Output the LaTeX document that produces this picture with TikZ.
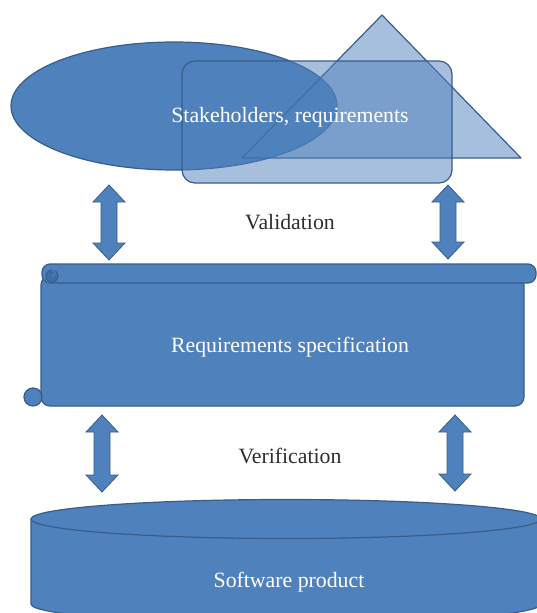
\documentclass[tikz,border=0pt]{standalone}
\usepackage{fontspec}
\setmainfont{Liberation Serif}
\definecolor{officeblue}{HTML}{4F81BD}
\definecolor{officeline}{HTML}{385D8A}
\definecolor{curlshade}{HTML}{3F6DA6}
% vertical double block arrow: x, top y, bottom y
\newcommand\vblockarrow[3]{%
  \draw[blockarrow] (#1,#2) -- (#1+16,#2+17) -- (#1+8,#2+17) -- (#1+8,#3-17)
    -- (#1+16,#3-17) -- (#1,#3) -- (#1-16,#3-17) -- (#1-8,#3-17)
    -- (#1-8,#2+17) -- (#1-16,#2+17) -- cycle;}
\begin{document}
\begin{tikzpicture}[x=1pt,y=-1pt,
  solidshape/.style={fill=officeblue, draw=officeline, line width=1.2pt, line join=round},
  glass/.style={fill=officeblue, fill opacity=0.5, draw=officeline, draw opacity=1, line width=1.2pt, line join=round},
  blockarrow/.style={fill=officeblue, draw=officeline, line width=0.8pt, line join=miter},
  lighttext/.style={text=white, inner sep=0pt, anchor=base, font=\fontsize{21.8pt}{26pt}\selectfont},
  darktext/.style={text=black!82, inner sep=0pt, anchor=base, font=\fontsize{21.8pt}{26pt}\selectfont}]
\useasboundingbox (0,0) rectangle (537,613);
\clip (0,0) rectangle (537,613);
\fill[white] (0,0) rectangle (537,613);

% stakeholders: ellipse, triangle and rounded box
\draw[solidshape] (174,106) ellipse [x radius=163pt, y radius=64pt];
\draw[glass] (382,15) -- (521,158) -- (242,158) -- cycle;
\draw[glass, rounded corners=13pt] (182,61) rectangle (452,183);
\node[lighttext] (stake) at (290,122.5) {Stakeholders, requirements};

% validation arrows
\vblockarrow{109}{185}{260}
\vblockarrow{448}{185}{259}
\node[darktext] (valid) at (290,229) {Validation};

% requirements specification scroll
\draw[solidshape, rounded corners=9pt] (41,276) -- (41,406) -- (524,406) -- (524,276) -- cycle;
\draw[solidshape] (33,397) circle [radius=9pt];
\draw[officeline!70!officeblue, line width=0.6pt] (37,389) arc[start angle=90, end angle=-60, radius=4pt];
\draw[solidshape, rounded corners=8pt] (42,264) rectangle (536,283);
\draw[fill=curlshade, draw=officeline, line width=1pt] (52,276) circle [radius=6pt];
\draw[officeblue, line width=1pt] (52,270) arc[start angle=90, end angle=-90, radius=3pt];
\node[lighttext] (spec) at (290,352) {Requirements specification};

% verification arrows
\vblockarrow{102}{415}{492}
\vblockarrow{455}{415}{491}
\node[darktext] (verif) at (290,463) {Verification};

% software product cylinder
\draw[solidshape] (31,519) -- (31,604)
  arc[start angle=180, end angle=360, x radius=255pt, y radius=19.5pt]
  -- (541,519) -- cycle;
\draw[solidshape] (286,519) ellipse [x radius=255pt, y radius=19.5pt];
\node[lighttext] (prod) at (289,587) {Software product};
\end{tikzpicture}
\end{document}
